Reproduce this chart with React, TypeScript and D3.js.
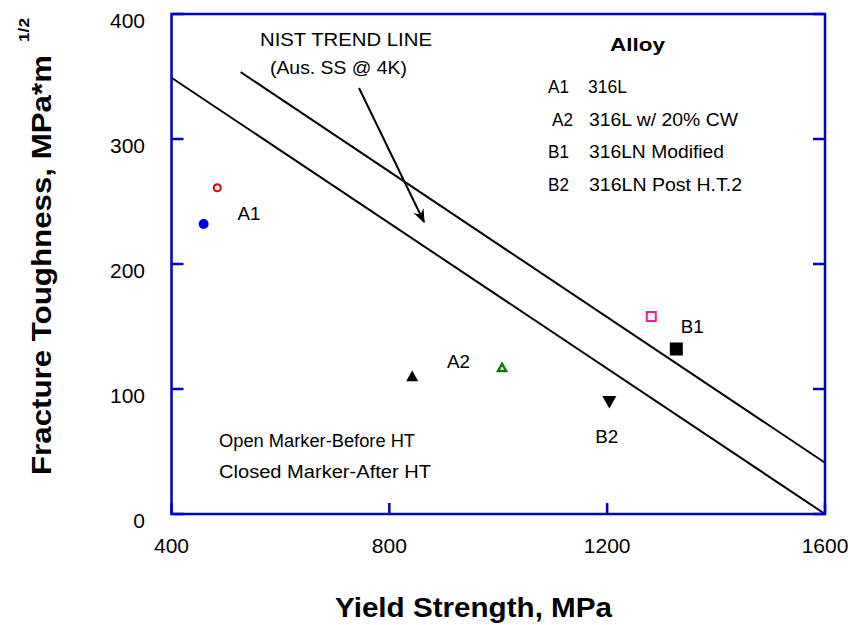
import React from "react";
import * as d3 from "d3";

const xTicks = [400, 800, 1200, 1600];
const yTicks = [0, 100, 200, 300, 400];

// NIST trend lines (yield strength, toughness) endpoints
const trendLower = [[400, 349], [1600, 0]];
const trendUpper = [[527, 353.5], [1600, 41]];

// markers: x = yield strength MPa, y = toughness
const points = [
  { id: "A1", open: true, shape: "circle", color: "#e00000", x: 484, y: 261 },
  { id: "A1", open: false, shape: "circle", color: "#0000e0", x: 459, y: 232 },
  { id: "A2", open: false, shape: "triangle", color: "#000000", x: 842, y: 110 },
  { id: "A2", open: true, shape: "triangle", color: "#008000", x: 1007, y: 117 },
  { id: "B1", open: true, shape: "square", color: "#ff1493", x: 1281, y: 158 },
  { id: "B1", open: false, shape: "square", color: "#000000", x: 1327, y: 132 },
  { id: "B2", open: false, shape: "triangleDown", color: "#000000", x: 1204, y: 90 },
];

const pointLabels = [
  { text: "A1", x: 521, y: 235 },
  { text: "A2", x: 906, y: 117 },
  { text: "B1", x: 1335, y: 145 },
  { text: "B2", x: 1178, y: 57 },
];

const legendRows = [
  ["A1", "316L", 39],
  ["A2", "316L w/ 20% CW", 149],
  ["B1", "316LN Modified", 135],
  ["B2", "316LN Post H.T.2", 153],
];

const W = 848;
const H = 625;
const left = 171.5;
const right = 825;
const top = 14;
const bottom = 514;
const font = "Liberation Sans, Arial, sans-serif";

export default function App() {
  const x = d3.scaleLinear().domain([400, 1600]).range([left, right]);
  const y = d3.scaleLinear().domain([0, 400]).range([bottom, top]);
  const line = d3.line<number[]>().x((d) => x(d[0])).y((d) => y(d[1]));

  const marker = (p: typeof points[number], i: number) => {
    const cx = x(p.x);
    const cy = y(p.y);
    const fill = p.open ? "#fff" : p.color;
    const sw = p.open ? 2 : 0;
    if (p.shape === "circle") {
      const r = p.open ? 3.5 : 5;
      return <circle key={i} cx={cx} cy={cy} r={r} fill={fill} stroke={p.color} strokeWidth={sw} />;
    }
    if (p.shape === "square") {
      const s = p.open ? 9 : 13;
      return <rect key={i} x={cx - s / 2} y={cy - s / 2} width={s} height={s} fill={fill} stroke={p.color} strokeWidth={sw} />;
    }
    if (p.shape === "triangle") {
      const s = p.open ? 4 : 6;
      const pts = `${cx},${cy - s} ${cx + s},${cy + s * 0.8} ${cx - s},${cy + s * 0.8}`;
      return <polygon key={i} points={pts} fill={fill} stroke={p.color} strokeWidth={p.open ? 2.5 : 0} />;
    }
    const s = 7;
    const pts = `${cx - s},${cy - s * 0.8} ${cx + s},${cy - s * 0.8} ${cx},${cy + s}`;
    return <polygon key={i} points={pts} fill={fill} />;
  };

  const fit = { lengthAdjust: "spacingAndGlyphs" as const };

  return (
    <svg width={W} height={H} style={{ position: "absolute", left: 0, top: 0, fontFamily: font }}>
      <defs>
        <marker id="arrowHead" viewBox="0 0 10 10" refX="9" refY="5" markerWidth="14" markerHeight="14" orient="auto" markerUnits="userSpaceOnUse">
          <path d="M0,1 L10,5 L0,9 L3,5 z" fill="#000" />
        </marker>
      </defs>
      <rect width={W} height={H} fill="#fff" />

      {/* trend lines */}
      <path d={line(trendLower) || ""} stroke="#000" strokeWidth={2} fill="none" />
      <path d={line(trendUpper) || ""} stroke="#000" strokeWidth={2} fill="none" />

      {/* arrow */}
      <line x1={359} y1={88} x2={424} y2={222} stroke="#000" strokeWidth={2} markerEnd="url(#arrowHead)" />
      <text x={260} y={46} fontSize={19} textLength={172} {...fit}>NIST TREND LINE</text>
      <text x={270} y={74} fontSize={19} textLength={137} {...fit}>(Aus. SS @ 4K)</text>

      {/* frame */}
      <rect x={left} y={top} width={right - left} height={bottom - top} fill="none" stroke="#0000cc" strokeWidth={2.5} />
      {xTicks.map((t) => (
        <g key={"x" + t}>
          <line x1={x(t)} x2={x(t)} y1={bottom} y2={bottom - 11} stroke="#0000cc" strokeWidth={2.5} />
          <text x={x(t)} y={553} fontSize={21} textAnchor="middle">{t}</text>
        </g>
      ))}
      {yTicks.map((t) => (
        <g key={"y" + t}>
          <line x1={left} x2={left + 12} y1={y(t)} y2={y(t)} stroke="#0000cc" strokeWidth={2.5} />
          <line x1={right} x2={right - 12} y1={y(t)} y2={y(t)} stroke="#0000cc" strokeWidth={2.5} />
          <text x={145} y={y(t) + 14} fontSize={21} textAnchor="end">{t}</text>
        </g>
      ))}

      {points.map(marker)}
      {pointLabels.map((l) => (
        <text key={l.text} x={x(l.x)} y={y(l.y)} fontSize={19} textLength={23} {...fit}>{l.text}</text>
      ))}

      {/* legend */}
      <text x={610} y={51} fontSize={19} fontWeight="bold" textLength={55} {...fit}>Alloy</text>
      {legendRows.map((r, i) => (
        <g key={r[0] as string}>
          <text x={i === 1 ? 552 : 548} y={93 + i * 32.5} fontSize={18} textLength={21} {...fit}>{r[0]}</text>
          <text x={i === 0 ? 588 : 589} y={93 + i * 32.5} fontSize={18} textLength={r[2] as number} {...fit}>{r[1]}</text>
        </g>
      ))}

      <text x={219} y={447} fontSize={18} textLength={196} {...fit}>Open Marker-Before HT</text>
      <text x={219} y={478} fontSize={18} textLength={212} {...fit}>Closed Marker-After HT</text>

      {/* axis titles */}
      <text x={335} y={617} fontSize={27} fontWeight="bold" textLength={277} {...fit}>Yield Strength, MPa</text>
      <text transform="translate(51,475) rotate(-90)" fontSize={27} fontWeight="bold" textLength={420} {...fit}>Fracture Toughness, MPa*m</text>
      <text transform="translate(29,42) rotate(-90)" fontSize={14} fontWeight="bold" textLength={24} {...fit}>1/2</text>
    </svg>
  );
}
